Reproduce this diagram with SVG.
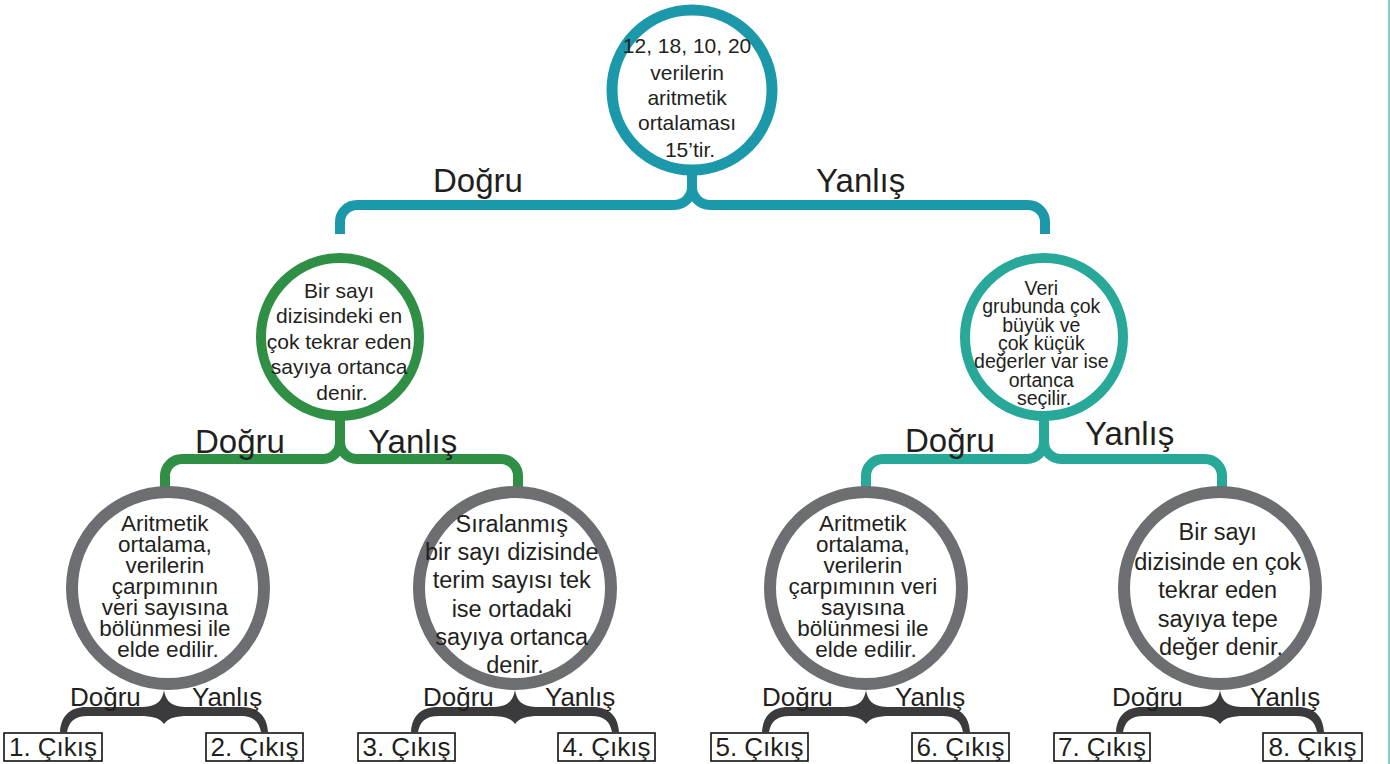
<svg xmlns="http://www.w3.org/2000/svg" width="1390" height="764" viewBox="0 0 1390 764">
<style>
.t{font-family:"Liberation Sans",Arial,sans-serif;fill:#231f20;text-anchor:middle}
.lbl{font-family:"Liberation Sans",Arial,sans-serif;fill:#231f20;font-size:33px}
.slbl{font-family:"Liberation Sans",Arial,sans-serif;fill:#231f20;font-size:26px}
.box{fill:#fff;stroke:#111;stroke-width:1.6}
.bt{font-family:"Liberation Sans",Arial,sans-serif;fill:#231f20;font-size:26px;text-anchor:middle}
.ring{fill:#fff}
.c-top{stroke:#1b98a9;stroke-width:11}
.c-green{stroke:#2f8f45;stroke-width:10}
.c-teal{stroke:#27a898;stroke-width:10}
.c-grey{stroke:#6d6e71;stroke-width:12}
.bar{fill:none;stroke-width:10}
.brace{fill:#3b3a3c}
</style>
<defs>
<path id="brace" d="M0,-22 C2,-10 8,-5 24,-5 L78,-5 C94,-5 103,4 104,20 L97,20 C95,10 90,4 76,4 L24,4 C12,4 4,6 0,12 C-4,6 -12,4 -24,4 L-76,4 C-90,4 -95,10 -97,20 L-104,20 C-103,4 -94,-5 -78,-5 L-24,-5 C-8,-5 -2,-10 0,-22 Z"/>
</defs>
<rect width="1390" height="764" fill="#fff"/>
<line x1="1389" y1="0" x2="1389" y2="764" stroke="#7fcfc2" stroke-width="2"/>

<g id="connectors">
  <path class="bar" stroke="#1b98a9" d="M340,234 L340,222 A17,17 0 0 1 357,205 L674,205 A18,18 0 0 0 692,187 L692,172 M692,187 A18,18 0 0 0 710,205 L1028,205 A17,17 0 0 1 1045,222 L1045,234"/>
  <path class="bar" stroke="#2f8f45" d="M165,490 L165,476 A17,17 0 0 1 182,459 L323,459 A17,17 0 0 0 340,442 L340,416 M340,442 A17,17 0 0 0 357,459 L501,459 A17,17 0 0 1 518,476 L518,490"/>
  <path class="bar" stroke="#27a898" d="M866,490 L866,476 A17,17 0 0 1 883,459 L1027,459 A17,17 0 0 0 1044,442 L1044,416 M1044,442 A17,17 0 0 0 1061,459 L1205,459 A17,17 0 0 1 1222,476 L1222,490"/>
  <use href="#brace" class="brace" transform="translate(164,712)"/>
  <use href="#brace" class="brace" transform="translate(515,712)"/>
  <use href="#brace" class="brace" transform="translate(866,712)"/>
  <use href="#brace" class="brace" transform="translate(1220,712)"/>
  <text class="lbl" x="433" y="192">Doğru</text>
  <text class="lbl" x="816" y="192">Yanlış</text>
  <text class="lbl" x="195" y="453">Doğru</text>
  <text class="lbl" x="368" y="453">Yanlış</text>
  <text class="lbl" x="905" y="452">Doğru</text>
  <text class="lbl" x="1085" y="445">Yanlış</text>
  <text class="slbl" x="70" y="706">Doğru</text>
  <text class="slbl" x="192" y="706">Yanlış</text>
  <text class="slbl" x="423" y="706">Doğru</text>
  <text class="slbl" x="545" y="706">Yanlış</text>
  <text class="slbl" x="762" y="706">Doğru</text>
  <text class="slbl" x="895" y="706">Yanlış</text>
  <text class="slbl" x="1112" y="706">Doğru</text>
  <text class="slbl" x="1250" y="706">Yanlış</text>
</g>

<g id="node-root">
  <circle class="ring c-top" cx="692" cy="90" r="80"/>
  <text class="t" font-size="21">
    <tspan x="690" y="53">12, 18, 10, 20</tspan>
    <tspan x="690" y="80">verilerin</tspan>
    <tspan x="690" y="105">aritmetik</tspan>
    <tspan x="690" y="130">ortalaması</tspan>
    <tspan x="690" y="157">15’tir.</tspan>
  </text>
</g>

<g id="node-left">
  <circle class="ring c-green" cx="340" cy="337" r="79"/>
  <text class="t" font-size="21">
    <tspan x="342" y="298">Bir sayı</tspan>
    <tspan x="342" y="323">dizisindeki en</tspan>
    <tspan x="342" y="349">çok tekrar eden</tspan>
    <tspan x="342" y="374">sayıya ortanca</tspan>
    <tspan x="342" y="400">denir.</tspan>
  </text>
</g>

<g id="node-right">
  <circle class="ring c-teal" cx="1044" cy="337" r="79"/>
  <text class="t" font-size="19.5">
    <tspan x="1044" y="295">Veri</tspan>
    <tspan x="1044" y="313">grubunda çok</tspan>
    <tspan x="1044" y="332">büyük ve</tspan>
    <tspan x="1044" y="350">çok küçük</tspan>
    <tspan x="1044" y="368">değerler var ise</tspan>
    <tspan x="1044" y="387">ortanca</tspan>
    <tspan x="1044" y="405">seçilir.</tspan>
  </text>
</g>

<g id="node-ll">
  <circle class="ring c-grey" cx="168" cy="588" r="96"/>
  <text class="t" font-size="22.5">
    <tspan x="168" y="531">Aritmetik</tspan>
    <tspan x="168" y="552">ortalama,</tspan>
    <tspan x="168" y="573">verilerin</tspan>
    <tspan x="168" y="594">çarpımının</tspan>
    <tspan x="168" y="615">veri sayısına</tspan>
    <tspan x="168" y="636">bölünmesi ile</tspan>
    <tspan x="168" y="657">elde edilir.</tspan>
  </text>
</g>

<g id="node-lr">
  <circle class="ring c-grey" cx="515" cy="588" r="96"/>
  <text class="t" font-size="23.5">
    <tspan x="515" y="532">Sıralanmış</tspan>
    <tspan x="515" y="560">bir sayı dizisinde</tspan>
    <tspan x="515" y="588">terim sayısı tek</tspan>
    <tspan x="515" y="617">ise ortadaki</tspan>
    <tspan x="515" y="645">sayıya ortanca</tspan>
    <tspan x="515" y="673">denir.</tspan>
  </text>
</g>

<g id="node-rl">
  <circle class="ring c-grey" cx="866" cy="588" r="96"/>
  <text class="t" font-size="22.5">
    <tspan x="866" y="531">Aritmetik</tspan>
    <tspan x="866" y="552">ortalama,</tspan>
    <tspan x="866" y="573">verilerin</tspan>
    <tspan x="866" y="594">çarpımının veri</tspan>
    <tspan x="866" y="615">sayısına</tspan>
    <tspan x="866" y="636">bölünmesi ile</tspan>
    <tspan x="866" y="657">elde edilir.</tspan>
  </text>
</g>

<g id="node-rr">
  <circle class="ring c-grey" cx="1220" cy="588" r="96"/>
  <text class="t" font-size="23.5">
    <tspan x="1221" y="540">Bir sayı</tspan>
    <tspan x="1221" y="570">dizisinde en çok</tspan>
    <tspan x="1221" y="598">tekrar eden</tspan>
    <tspan x="1221" y="627">sayıya tepe</tspan>
    <tspan x="1221" y="655">değer denir.</tspan>
  </text>
</g>

<g id="out-1"><rect class="box" x="4" y="733" width="98" height="28"/><text class="bt" x="53" y="756">1. Çıkış</text></g>
<g id="out-2"><rect class="box" x="206" y="733" width="97" height="28"/><text class="bt" x="254.5" y="756">2. Çıkış</text></g>
<g id="out-3"><rect class="box" x="358" y="733" width="97" height="28"/><text class="bt" x="406.5" y="756">3. Çıkış</text></g>
<g id="out-4"><rect class="box" x="558" y="733" width="97" height="28"/><text class="bt" x="606.5" y="756">4. Çıkış</text></g>
<g id="out-5"><rect class="box" x="711" y="733" width="97" height="28"/><text class="bt" x="759.5" y="756">5. Çıkış</text></g>
<g id="out-6"><rect class="box" x="912" y="733" width="97" height="28"/><text class="bt" x="960.5" y="756">6. Çıkış</text></g>
<g id="out-7"><rect class="box" x="1054" y="733" width="96" height="28"/><text class="bt" x="1102" y="756">7. Çıkış</text></g>
<g id="out-8"><rect class="box" x="1263" y="733" width="99" height="28"/><text class="bt" x="1312.5" y="756">8. Çıkış</text></g>
</svg>
